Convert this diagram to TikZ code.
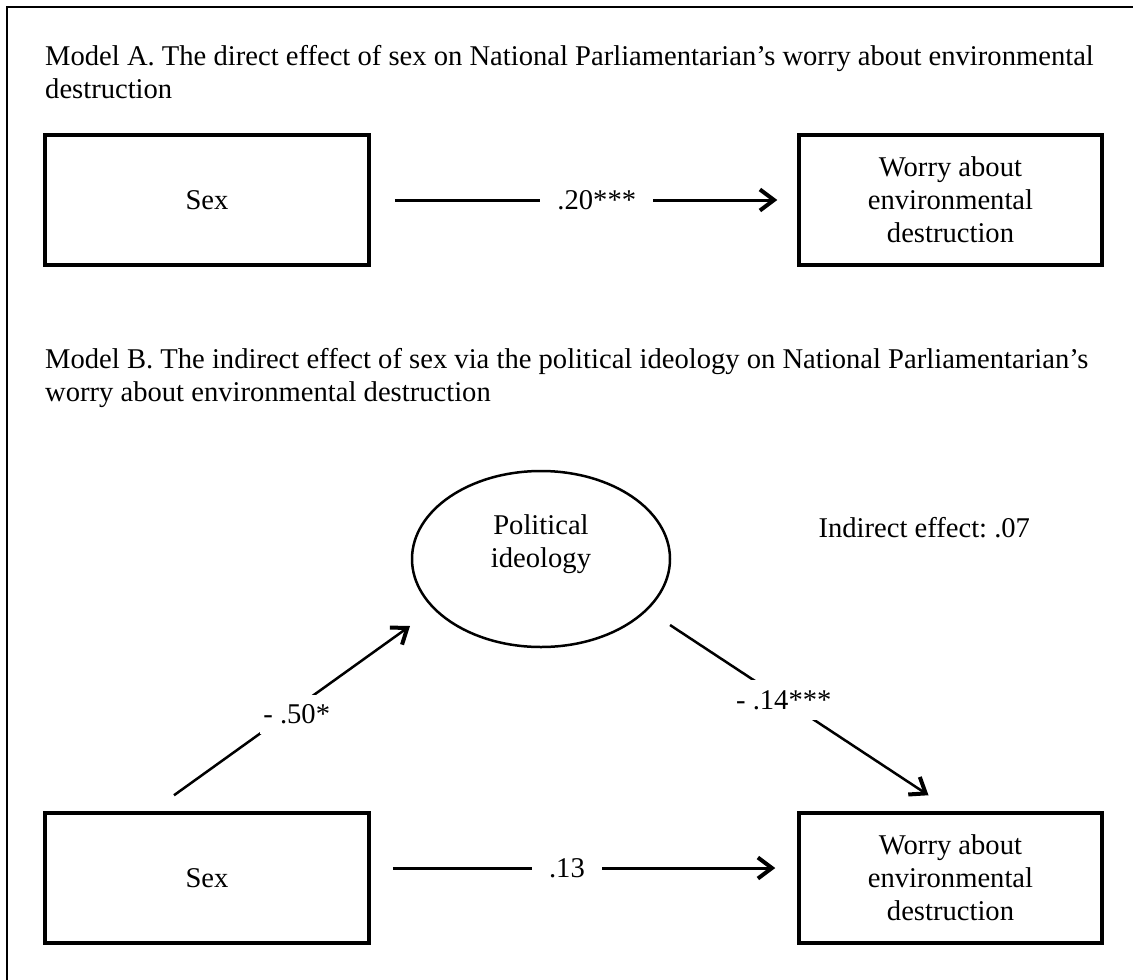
\documentclass[tikz,border=0pt]{standalone}
\usepackage{fontspec}
\setmainfont{Liberation Serif}
\usetikzlibrary{arrows.meta,shapes.geometric,calc}

\begin{document}
\frenchspacing
\begin{tikzpicture}[x=1pt, y=1pt,
	font=\fontsize{28.6}{33}\selectfont,
	box/.style={draw, line width=3.5pt, minimum width=324pt, minimum height=130pt, align=center, inner sep=0pt},
	arr/.style={line width=3pt, -{Straight Barb[length=14pt,width=21pt,line width=4pt]}},
	coef/.style={fill=white, inner xsep=17pt, inner ysep=2pt},
	slant/.style={fill=white, inner xsep=3pt, inner ysep=10pt}]
		%%%%% START %%%%%
		\useasboundingbox (0, 0) rectangle (1133, -980);
		\draw[line width=2.5pt] (7, -980) -- (7, -7) -- (1133, -7);
		
		% Model A
		\node[anchor=north west, align=left, inner sep=0pt] (titleA) at (45, -45) {Model A. The direct effect of sex on National Parliamentarian's worry about environmental\\destruction};
		\node[box] (sexA) at (207, -200) {Sex};
		\node[box, minimum width=303pt] (worryA) at (950.5, -200) {Worry about\\environmental\\destruction};
		\draw[arr, shorten <=24pt, shorten >=20pt] (sexA) -- node[coef, pos=0.53] {.20***} (worryA);
		
		% Model B
		\node[anchor=north west, align=left, inner sep=0pt] (titleB) at (45, -348) {Model B. The indirect effect of sex via the political ideology on National Parliamentarian's\\worry about environmental destruction};
		\node[ellipse, draw, line width=2.5pt, minimum width=258pt, minimum height=176pt] (ideo) at (541, -559) {};
		\node[align=center] (ideoText) at (541, -544) {Political\\ideology};
		\node[anchor=base west] (indirect) at (815, -537) {Indirect effect: .07};
		
		\node[box] (sexB) at (207, -878) {Sex};
		\node[box, minimum width=303pt] (worryB) at (950.5, -878) {Worry about\\environmental\\destruction};
		\draw[arr, shorten <=22pt, shorten >=22pt] ([yshift=10pt]sexB.east) -- node[coef, pos=0.46] {.13} ([yshift=10pt]worryB.west);
		
		\coordinate (fromSex) at ($(sexB.north)+(-33,16)$);
		\coordinate (toIdeo) at ($(ideo.center)+(-131,-67)$);
		\draw[arr, line width=2.5pt] (fromSex) -- node[slant, pos=0.52, yshift=-7pt] {- .50*} (toIdeo);
		
		\coordinate (fromIdeo) at ($(ideo.center)+(129,-66)$);
		\coordinate (toWorry) at ($(worryB.north)+(-22,16)$);
		\draw[arr, line width=2.5pt] (fromIdeo) -- node[slant, pos=0.44] {- .14***} (toWorry);
		%%%%% END %%%%%
	\end{tikzpicture}
\end{document}
